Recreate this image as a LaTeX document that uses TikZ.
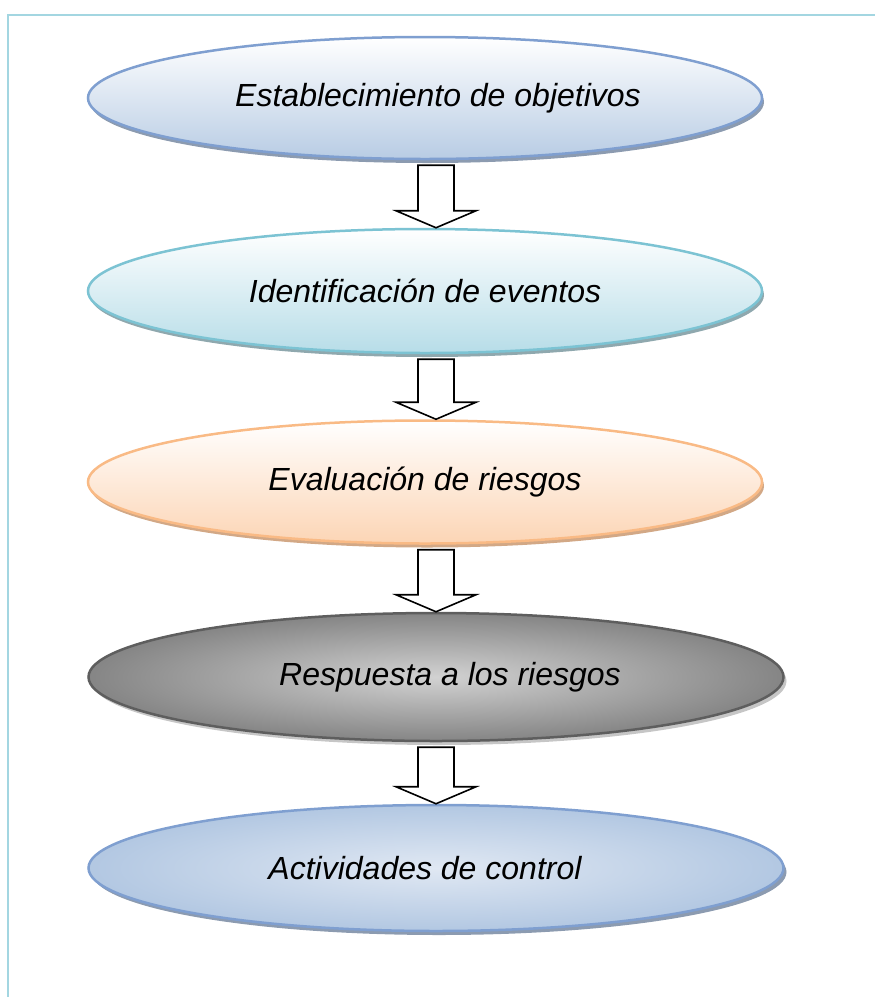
\documentclass[tikz,border=0pt]{standalone}
\usepackage{fontspec}
\setmainfont{Liberation Sans}
\usetikzlibrary{shapes.geometric, shadows, calc}

\definecolor{marco}{HTML}{A3D6E1}
\definecolor{azulborde}{HTML}{7F9FD0}
\definecolor{azulfondo}{HTML}{B8CCE4}
\definecolor{azulclaro}{HTML}{E0E8F3}
\definecolor{azulsombra}{HTML}{8C9BB0}
\definecolor{cianborde}{HTML}{7CC3D3}
\definecolor{cianfondo}{HTML}{B7DDE8}
\definecolor{ciansombra}{HTML}{8FA8AE}
\definecolor{naranjaborde}{HTML}{F9BA85}
\definecolor{naranjafondo}{HTML}{FCD5B5}
\definecolor{naranjasombra}{HTML}{D2A886}
\definecolor{grisborde}{HTML}{5E5E5E}
\definecolor{grisclaro}{HTML}{D2D2D2}
\definecolor{grisoscuro}{HTML}{858585}
\definecolor{grissombra}{HTML}{C6C6C6}

% flecha de bloque entre dos etapas
\newcommand{\flecha}[2]{%
  \draw[flecha] ($(eje |- #1.south)+(-18,5)$) -- ($(eje |- #2.north)+(-18,-17)$)
    -- ($(eje |- #2.north)+(-40,-17)$) -- (eje |- #2.north)
    -- ($(eje |- #2.north)+(40,-17)$) -- ($(eje |- #2.north)+(18,-17)$)
    -- ($(eje |- #1.south)+(18,5)$) -- cycle;}

\begin{document}
\begin{tikzpicture}[x=1pt, y=-1pt,
    etapa/.style={ellipse, inner sep=0pt, line width=2.5pt,
      font=\fontsize{32}{38}\selectfont\itshape},
    flecha/.style={draw=black, fill=white, line width=1.6pt, line join=miter}]
        \useasboundingbox (0,0) rectangle (875,997);

        % marco
        \draw[marco, line width=2pt] (875,15) -- (8,15) -- (8,997);

        % etapas
        \node (obj) [etapa, minimum width=674pt, minimum height=122pt,
          draw=azulborde, top color=white, bottom color=azulfondo,
          drop shadow={shadow xshift=2pt, shadow yshift=-4pt, fill=azulsombra, opacity=1}]
          at (425,98) {\hspace*{26pt}Establecimiento de objetivos};
        \node (eve) [etapa, minimum width=674pt, minimum height=124pt,
          draw=cianborde, top color=white, bottom color=cianfondo,
          drop shadow={shadow xshift=2pt, shadow yshift=-4pt, fill=ciansombra, opacity=1}]
          at (425,291) {Identificación de eventos};
        \node (eva) [etapa, minimum width=674pt, minimum height=123pt,
          draw=naranjaborde, top color=white, bottom color=naranjafondo,
          drop shadow={shadow xshift=2pt, shadow yshift=-4pt, fill=naranjasombra, opacity=1}]
          at (425,482) {Evaluación de riesgos};
        \node (res) [etapa, minimum width=695pt, minimum height=128pt,
          draw=grisborde, inner color=grisclaro, outer color=grisoscuro,
          drop shadow={shadow xshift=3pt, shadow yshift=-4pt, fill=grissombra, opacity=1}]
          at (436,677) {\hspace*{28pt}Respuesta a los riesgos};
        \node (act) [etapa, minimum width=695pt, minimum height=126pt,
          draw=azulborde, inner color=azulclaro, outer color=azulfondo!90!azulborde,
          drop shadow={shadow xshift=3pt, shadow yshift=-4pt, fill=azulsombra, opacity=1}]
          at (436,868) {Actividades de control\hspace*{22pt}};

        % flechas
        \coordinate (eje) at (436,0);
        \flecha{obj}{eve}
        \flecha{eve}{eva}
        \flecha{eva}{res}
        \flecha{res}{act}
\end{tikzpicture}
\end{document}
